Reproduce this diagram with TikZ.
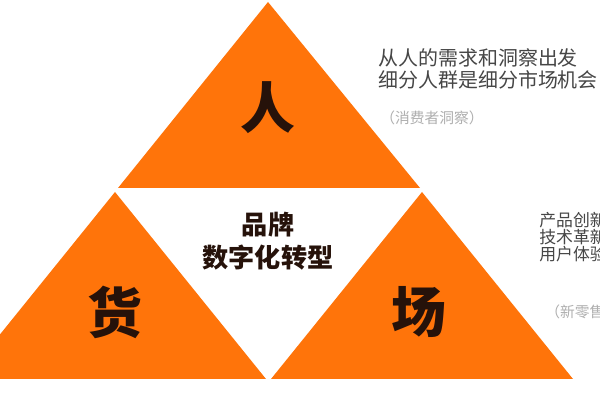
\documentclass[tikz,border=0pt]{standalone}
\usepackage{fontspec}
\setmainfont{Noto Sans CJK SC}
\newfontfamily\heavyfont{Noto Sans CJK SC Black}
\definecolor{pyramid}{RGB}{255,116,10}
\definecolor{ink}{RGB}{38,18,10}
\definecolor{note}{RGB}{70,70,70}
\definecolor{hint}{RGB}{175,175,175}
\begin{document}
\begin{tikzpicture}[x=0.025cm, y=-0.025cm,
    corner/.style={inner sep=0pt, text=ink, font=\fontsize{39}{39}\selectfont\heavyfont},
    core/.style={inner sep=0pt, align=center, text=ink, font=\fontsize{18.6}{23.5}\selectfont\bfseries},
    remark/.style={inner sep=0pt, anchor=west, align=left, text=note},
    source/.style={inner sep=0pt, anchor=west, text=hint, font=\fontsize{10.5}{12}\selectfont}]
    \useasboundingbox (0,0) rectangle (600,400);
    \fill[white] (0,0) rectangle (600,400);
    % the three corners of the pyramid
    \fill[pyramid] (268,2) -- (118,188) -- (420,188) -- cycle;
    \fill[pyramid] (115,192) -- (-36,379) -- (266,379) -- cycle;
    \fill[pyramid] (422,192) -- (271,379) -- (573,379) -- cycle;
    %\draw[white,thick] (118,190) -- (420,190);
  	\node (ren) at (268,108) [corner] {人};
  	\node (huo) at (115,312) [corner] {货};
  	\node (chang) at (419,312) [corner] {场};
  	\node (brand) at (268,241) [core] {品牌\\数字化转型};
  	\node (renNote) at (378,69) [remark, font=\fontsize{14.2}{15.6}\selectfont]
  	  {从人的需求和洞察出发\\细分人群是细分市场机会};
  	\node (renSource) at (380,118) [source] {（消费者洞察）};
  	% cut off at the right edge, as in the original
  	\node (changNote) at (539,237) [remark, font=\fontsize{12}{12.2}\selectfont]
  	  {产品创新\\技术革新\\用户体验};
  	\node (changSource) at (545,312) [source] {（新零售）};
  \end{tikzpicture}
\end{document}
